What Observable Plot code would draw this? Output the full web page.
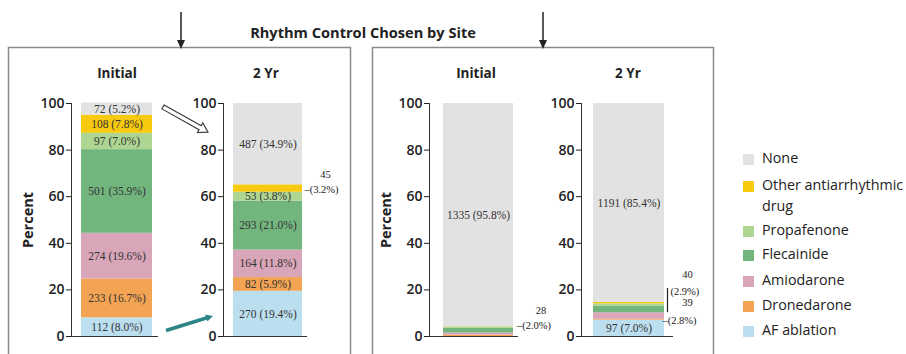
<!DOCTYPE html>
<html>
<head>
<meta charset="utf-8">
<script src="https://cdn.jsdelivr.net/npm/d3@7"></script>
<script src="https://cdn.jsdelivr.net/npm/@observablehq/plot@0.6"></script>
<style>
  body { margin: 0; background: #fff; font-family: "Open Sans", sans-serif; color: #222; }
  #chart { position: relative; width: 906px; height: 354px; overflow: hidden; background: #fff; }
  #chart > * { position: absolute; }
  .ttl { font-weight: 700; font-size: 14px; white-space: nowrap; transform: translate(-50%, -50%); }
  .legend { left: 743px; top: 150px; font-size: 14.3px; line-height: 17px; }
  .legend .row { position: absolute; left: 0; white-space: nowrap; }
  .legend .sw { position: absolute; left: 0; top: 4px; width: 11px; height: 11px; }
  .legend .tx { position: absolute; left: 19px; top: 0; }
</style>
</head>
<body>
<div id="chart"></div>
<script>
// Treatment categories, bottom of the stack first
const drugs = ["AF ablation", "Dronedarone", "Amiodarone", "Flecainide", "Propafenone", "Other antiarrhythmic drug", "None"];
const colors = ["#bcdff0", "#f2a453", "#d9a5b8", "#72b67e", "#afd592", "#f7c90f", "#e2e2e2"];
const legendOrder = ["None", "Other antiarrhythmic drug", "Propafenone", "Flecainide", "Amiodarone", "Dronedarone", "AF ablation"];
const legendText = ["None", "Other antiarrhythmic\ndrug", "Propafenone", "Flecainide", "Amiodarone", "Dronedarone", "AF ablation"];

// Patients (n) and percent per category
const site1InitialCount = [112, 233, 274, 501, 97, 108, 72];
const site1InitialPct   = [8.0, 16.7, 19.6, 35.9, 7.0, 7.8, 5.2];
const site1TwoYrCount   = [270, 82, 164, 293, 53, 45, 487];
const site1TwoYrPct     = [19.4, 5.9, 11.8, 21.0, 3.8, 3.2, 34.9];
const site2InitialCount = [0, 8, 12, 28, 9, 2, 1335];
const site2InitialPct   = [0, 0.6, 0.9, 2.0, 0.6, 0.1, 95.8];
const site2TwoYrCount   = [97, 6, 39, 40, 12, 9, 1191];
const site2TwoYrPct     = [7.0, 0.4, 2.8, 2.9, 0.9, 0.6, 85.4];

const yTicks = [0, 20, 40, 60, 80, 100];
const periods = ["Initial", "2 Yr"];
const title = "Rhythm Control Chosen by Site";

const chart = document.getElementById("chart");
const plotTop = 94;
const minInsidePct = 3.5; // thinner segments carry no label of their own

function stackRows(period, counts, pcts) {
  let cum = 0;
  return drugs.map((drug, i) => {
    const r = {period, drug, n: counts[i], pct: pcts[i], y1: cum, y2: cum + pcts[i]};
    cum += pcts[i];
    r.mid = (r.y1 + r.y2) / 2;
    r.label = `${r.n} (${r.pct.toFixed(1)}%)`;
    return r;
  });
}

// Some thin segments are labelled beside the bar instead
function sideNotes(rows, notes) {
  const marks = [];
  const noteFont = {fontFamily: "Liberation Serif", fontSize: 10.5, fill: "#222"};
  for (const note of notes) {
    const row = rows.filter(r => r.drug === note.drug);
    marks.push(Plot.text(row, {x: "period", y: "mid", text: d => `${d.n}`, dx: note.countDx, dy: note.countDy, textAnchor: "middle", ...noteFont}));
    marks.push(Plot.text(row, {x: "period", y: "mid", text: d => `${note.lead}(${d.pct.toFixed(1)}%)`, dx: note.pctDx, dy: note.pctDy, textAnchor: "start", ...noteFont}));
    if (note.bracket) {
      marks.push(Plot.ruleX(row, {x: "period", y1: "y1", y2: d => d.mid + note.bracket, dx: note.bracketDx, stroke: "#222", strokeWidth: 1.2}));
    }
  }
  return marks;
}

function stackedBar({period, counts, pcts, notes, left, width, marginRight, insetLeft, insetRight, yLabel}) {
  const rows = stackRows(period, counts, pcts);
  const noted = new Set(notes.map(n => n.drug));
  const inside = rows.filter(r => r.pct >= minInsidePct && !noted.has(r.drug));
  const plot = Plot.plot({
    width, height: 250,
    marginTop: 9, marginBottom: 8, marginLeft: 51, marginRight,
    style: {background: "transparent", fontFamily: "Open Sans", fontSize: "14px", color: "#222", overflow: "visible"},
    x: {domain: [period], padding: 0, axis: null},
    y: {domain: [0, 100], label: null},
    color: {domain: drugs, range: colors},
    marks: [
      Plot.barY(rows, {x: "period", y1: "y1", y2: "y2", fill: "drug", insetLeft, insetRight}),
      Plot.text(inside, {x: "period", y: "mid", text: "label", dx: (insetLeft - insetRight) / 2,
        fontFamily: "Liberation Serif", fontSize: 11.5, fill: "#333"}),
      ...sideNotes(rows, notes),
      Plot.axisY({ticks: yTicks, tickSize: 5, tickPadding: 2, fontSize: 14, color: "#222",
        label: yLabel ? "Percent" : null, labelArrow: "none", labelAnchor: "center", labelOffset: 49}),
      Plot.frame({anchor: "left", stroke: "#333"}),
      Plot.ruleY([0], {stroke: "#333"})
    ]
  });
  d3.select(plot).selectAll('g[aria-label="y-axis tick label"] text').attr("font-weight", 600);
  d3.select(plot).selectAll('g[aria-label="y-axis label"] text')
    .text("Percent").attr("font-weight", 700).attr("font-size", 14.5);
  plot.style.left = left + "px";
  plot.style.top = plotTop + "px";
  chart.appendChild(plot);
  return plot;
}

const p1 = stackedBar({period: periods[0], counts: site1InitialCount, pcts: site1InitialPct, notes: [],
  left: 20, width: 140, marginRight: 2, insetLeft: 10, insetRight: 6, yLabel: true});
const p2 = stackedBar({period: periods[1], counts: site1TwoYrCount, pcts: site1TwoYrPct,
  notes: [{drug: "Other antiarrhythmic drug", lead: "–", countDx: 60, countDy: -14, pctDx: 39, pctDy: 1}],
  left: 172, width: 180, marginRight: 45, insetLeft: 10, insetRight: 5, yLabel: false});
const p3 = stackedBar({period: periods[0], counts: site2InitialCount, pcts: site2InitialPct,
  notes: [{drug: "Flecainide", lead: "–", countDx: 67, countDy: -20, pctDx: 43, pctDy: -5}],
  left: 378, width: 185, marginRight: 45, insetLeft: 14, insetRight: 5, yLabel: true});
const p4 = stackedBar({period: periods[1], counts: site2TwoYrCount, pcts: site2TwoYrPct,
  notes: [
    {drug: "Amiodarone", lead: "–", countDx: 60, countDy: -13, pctDx: 35, pctDy: 5},
    {drug: "Flecainide", lead: "", countDx: 60, countDy: -35, pctDx: 43, pctDy: -18, bracket: 9, bracketDx: 40}
  ],
  left: 530, width: 183, marginRight: 40, insetLeft: 12, insetRight: 9, yLabel: false});

// Headings
function heading(text, cx, cy, size) {
  const d = document.createElement("div");
  d.className = "ttl";
  d.textContent = text;
  d.style.left = cx + "px";
  d.style.top = cy + "px";
  if (size) d.style.fontSize = size + "px";
  chart.appendChild(d);
}
heading(title, 363, 32, 14.6);
heading(periods[0], 117, 73, 13.5);
heading(periods[1], 266, 73, 13.5);
heading(periods[0], 476, 73, 13.5);
heading(periods[1], 628, 73, 13.5);

// Legend
const legend = document.createElement("div");
legend.className = "legend";
const rowTops = [0, 27, 72, 96, 122, 147, 172];
legendOrder.forEach((name, i) => {
  const row = document.createElement("div");
  row.className = "row";
  row.style.top = rowTops[i] + "px";
  const sw = document.createElement("div");
  sw.className = "sw";
  sw.style.background = colors[drugs.indexOf(name)];
  const tx = document.createElement("div");
  tx.className = "tx";
  tx.style.whiteSpace = "pre";
  tx.style.lineHeight = "21px";
  tx.style.top = "-3px";
  tx.textContent = legendText[i];
  row.append(sw, tx);
  legend.appendChild(row);
});
chart.appendChild(legend);

// Panel frames, pointer arrows and the change arrows between the first two bars
const svg = d3.select(chart).append("svg")
  .attr("width", 906).attr("height", 354)
  .style("left", "0px").style("top", "0px").style("pointer-events", "none");

svg.append("rect").attr("x", 8.5).attr("y", 47.5).attr("width", 342).attr("height", 330)
  .attr("fill", "none").attr("stroke", "#8a8a8a").attr("stroke-width", 1.5);
svg.append("rect").attr("x", 372.5).attr("y", 47.5).attr("width", 341).attr("height", 330)
  .attr("fill", "none").attr("stroke", "#8a8a8a").attr("stroke-width", 1.5);

for (const x of [181, 543]) {
  svg.append("line").attr("x1", x).attr("x2", x).attr("y1", 12).attr("y2", 42)
    .attr("stroke", "#222").attr("stroke-width", 1.5);
  svg.append("path").attr("d", `M${x - 4},40 L${x + 4},40 L${x},49 Z`).attr("fill", "#222");
}

function arrowPolygon(x0, y0, x1, y1, shaft, head, headLen) {
  const dx = x1 - x0, dy = y1 - y0, len = Math.hypot(dx, dy);
  const ux = dx / len, uy = dy / len, nx = -uy, ny = ux;
  const bx = x1 - ux * headLen, by = y1 - uy * headLen;
  const pts = [
    [x0 + nx * shaft, y0 + ny * shaft], [bx + nx * shaft, by + ny * shaft], [bx + nx * head, by + ny * head],
    [x1, y1],
    [bx - nx * head, by - ny * head], [bx - nx * shaft, by - ny * shaft], [x0 - nx * shaft, y0 - ny * shaft]
  ];
  return "M" + pts.map(p => p.join(",")).join("L") + "Z";
}

// Positions come from the bar plots' own scales
const y1s = p1.scale("y"), y2s = p2.scale("y");
const x1Right = 20 + p1.scale("x").apply(periods[0]) + p1.scale("x").bandwidth - 6;
const x2Axis = 172 + 51;
svg.append("path")
  .attr("d", arrowPolygon(x1Right + 11, plotTop + y1s.apply(98.3), x2Axis - 15, plotTop + y2s.apply(87.5), 2.2, 5.5, 9))
  .attr("fill", "#fff").attr("stroke", "#333").attr("stroke-width", 1.1);
svg.append("path")
  .attr("d", arrowPolygon(x1Right + 14, plotTop + y1s.apply(2.4), x2Axis - 10, plotTop + y2s.apply(8.6), 1.8, 3.6, 7))
  .attr("fill", "#2d8585");
</script>
</body>
</html>
